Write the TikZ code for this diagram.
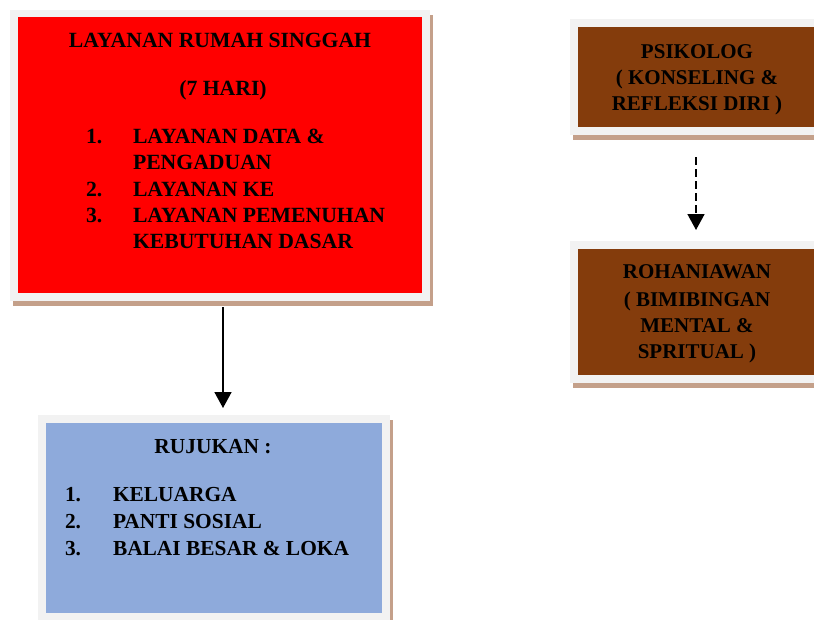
\documentclass[tikz,border=0pt]{standalone}
\usepackage{fontspec}
\setmainfont{Liberation Serif}
\usetikzlibrary{arrows.meta,shadows}
\definecolor{framegray}{HTML}{F2F2F2}
\definecolor{shadowtan}{RGB}{196,160,138}
\definecolor{boxred}{HTML}{FF0000}
\definecolor{boxblue}{HTML}{8EAADB}
\definecolor{boxbrown}{HTML}{843C0C}
\begin{document}
\begin{tikzpicture}[x=1pt,y=-1pt,
  frame/.style={fill=framegray, inner sep=0pt, outer sep=0pt, draw=none,
    general shadow={fill=shadowtan, shadow xshift=2.5pt, shadow yshift=-4.5pt}},
  panel/.style={inner sep=0pt, outer sep=0pt, draw=none},
  txt/.style={inner sep=0pt, outer sep=0pt, anchor=base, font=\fontsize{21}{26}\selectfont\bfseries},
  txtl/.style={txt, anchor=base west},
  redtxt/.style={font=\fontsize{21.7}{26}\selectfont\bfseries},
  bluetxt/.style={font=\fontsize{21.4}{26}\selectfont\bfseries},
  arr/.style={line width=1.6pt, -{Triangle[width=17pt,length=16pt]}}
]
\clip (0,0) rectangle (814,619);
\fill[white] (0,0) rectangle (814,619);

% red box
\node[frame, minimum width=420pt, minimum height=291pt] (redf) at (220,155.5) {};
\node[panel, fill=boxred, minimum width=404pt, minimum height=276pt] (red) at (220,155) {};
\node[txt, redtxt] (r0) at (220,47) {LAYANAN RUMAH SINGGAH};
\node[txt, redtxt] (r1) at (223,95) {(7 HARI)};
\node[txtl, redtxt] (rn1) at (86,143) {1.};
\node[txtl, redtxt] (rt1) at (133,143) {LAYANAN DATA \&};
\node[txtl, redtxt] (rt1b) at (133,169) {PENGADUAN};
\node[txtl, redtxt] (rn2) at (86,196) {2.};
\node[txtl, redtxt] (rt2) at (133,196) {LAYANAN KE};
\node[txtl, redtxt] (rn3) at (86,222) {3.};
\node[txtl, redtxt] (rt3) at (133,222) {LAYANAN PEMENUHAN};
\node[txtl, redtxt] (rt3b) at (133,248) {KEBUTUHAN DASAR};

% blue box
\node[frame, minimum width=352pt, minimum height=206pt] (bluef) at (214,518) {};
\node[panel, fill=boxblue, minimum width=336pt, minimum height=190pt] (blue) at (214,518) {};
\node[txt, bluetxt] (b0) at (213,453) {RUJUKAN :};
\node[txtl, bluetxt] (bn1) at (65,501) {1.};
\node[txtl, bluetxt] (bt1) at (113,501) {KELUARGA};
\node[txtl, bluetxt] (bn2) at (65,528) {2.};
\node[txtl, bluetxt] (bt2) at (113,528) {PANTI SOSIAL};
\node[txtl, bluetxt] (bn3) at (65,555) {3.};
\node[txtl, bluetxt] (bt3) at (113,555) {BALAI BESAR \& LOKA};

% psikolog box
\node[frame, minimum width=254pt, minimum height=116pt] (psif) at (697,77) {};
\node[panel, fill=boxbrown, minimum width=238pt, minimum height=100pt] (psi) at (697,77) {};
\node[txt] (p0) at (697,58) {PSIKOLOG};
\node[txt] (p1) at (697,84) {( KONSELING \&};
\node[txt] (p2) at (697,110) {REFLEKSI DIRI )};

% rohaniawan box
\node[frame, minimum width=254pt, minimum height=142pt] (rohf) at (697,312) {};
\node[panel, fill=boxbrown, minimum width=238pt, minimum height=126pt] (roh) at (697,312) {};
\node[txt] (h0) at (697,278) {ROHANIAWAN};
\node[txt] (h1) at (697,306) {( BIMIBINGAN};
\node[txt] (h2) at (697,332) {MENTAL \&};
\node[txt] (h3) at (697,358) {SPRITUAL )};

% connectors
\draw[arr] ([xshift=3pt,yshift=-6pt]redf.south) -- ([xshift=9pt,yshift=7pt]bluef.north);
\draw[arr, dash pattern=on 8pt off 4pt] ([xshift=-1pt,yshift=-22pt]psif.south) -- ([xshift=-1pt,yshift=11pt]rohf.north);
\end{tikzpicture}
\end{document}
